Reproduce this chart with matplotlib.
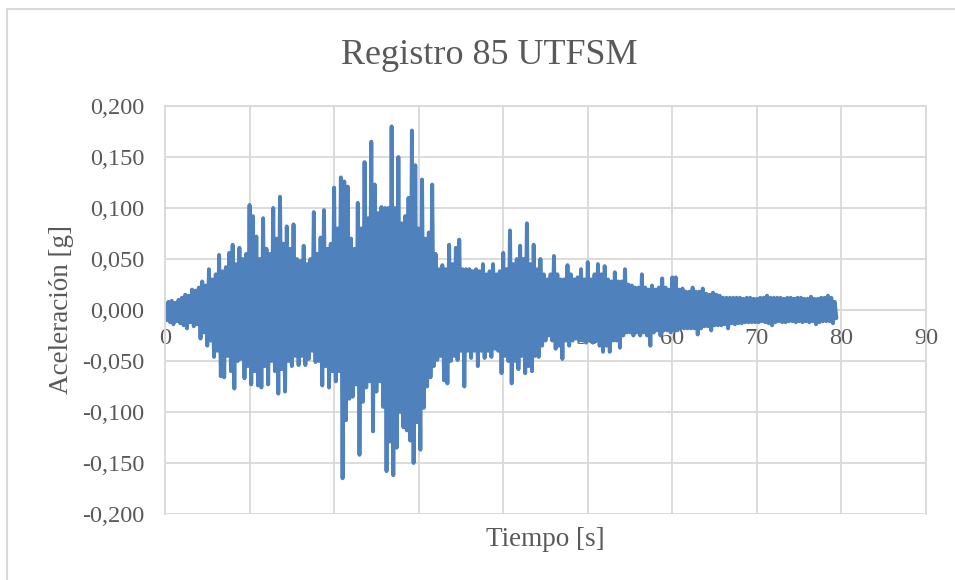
import numpy as np
import matplotlib
matplotlib.use("Agg")
import matplotlib.pyplot as plt
from matplotlib.ticker import FuncFormatter
from matplotlib.patches import Rectangle

title = "Registro 85 UTFSM"
x_label = "Tiempo [s]"
y_label = "Aceleración [g]"
x_ticks = [0, 10, 20, 30, 40, 50, 60, 70, 80, 90]
y_ticks = [-0.200, -0.150, -0.100, -0.050, 0.000, 0.050, 0.100, 0.150, 0.200]

# sampling interval of the (visually read) record, seconds
dt = 0.2

# acceleration, in thousandths of g, 10 samples (2 s) per row
acc_mg = [
    5, -10, 8, -12, 9, -14, 7, -11, 10, -13,
    12, -15, 15, -18, 14, -12, 20, -16, 19, -14,
    22, -28, 28, -22, 24, -35, 40, -30, 30, -46,
    35, -40, 54, -65, 38, -66, 42, -45, 56, -60,
    64, -77, 45, -50, 61, -48, 50, -67, 55, -55,
    103, -73, 92, -60, 72, -74, 50, -76, 90, -55,
    60, -73, 55, -50, 100, -60, 70, -82, 111, -58,
    65, -80, 82, -50, 60, -55, 84, -45, 50, -54,
    48, -45, 63, -54, 45, -48, 50, -40, 96, -51,
    55, -50, 71, -74, 98, -55, 60, -76, 65, -60,
    120, -70, 80, -60, 130, -165, 126, -108, 121, -87,
    70, -85, 60, -73, 105, -142, 80, -90, 145, -76,
    90, -70, 165, -119, 123, -80, 95, -70, 101, -95,
    100, -158, 100, -129, 180, -162, 100, -135, 150, -100,
    85, -115, 92, -118, 110, -128, 176, -150, 142, -110,
    80, -137, 128, -96, 70, -75, 76, -66, 123, -55,
    55, -49, 40, -45, 44, -69, 40, -72, 64, -50,
    45, -45, 61, -49, 69, -40, 40, -75, 40, -40,
    40, -47, 38, -40, 40, -55, 38, -40, 45, -47,
    35, -40, 38, -46, 45, -38, 35, -40, 38, -62,
    56, -45, 40, -50, 78, -72, 45, -50, 50, -58,
    63, -45, 50, -62, 85, -55, 45, -60, 64, -45,
    40, -46, 50, -35, 35, -30, 30, -25, 35, -30,
    53, -38, 35, -35, 30, -48, 30, -30, 44, -35,
    35, -30, 30, -28, 32, -30, 40, -30, 30, -32,
    47, -30, 30, -32, 35, -30, 45, -35, 35, -41,
    43, -35, 30, -41, 28, -30, 37, -30, 28, -37,
    28, -25, 40, -22, 25, -22, 24, -25, 22, -22,
    22, -25, 35, -22, 22, -25, 20, -35, 24, -22,
    20, -20, 22, -25, 31, -20, 22, -20, 20, -22,
    32, -20, 32, -20, 20, -18, 21, -18, 18, -18,
    18, -18, 22, -18, 18, -24, 18, -18, 21, -16,
    16, -16, 15, -20, 17, -15, 15, -15, 14, -15,
    12, -14, 12, -18, 12, -13, 12, -14, 12, -13,
    12, -13, 11, -12, 12, -12, 12, -12, 11, -12,
    11, -12, 12, -11, 12, -12, 14, -13, 12, -15,
    12, -12, 12, -11, 12, -12, 11, -12, 12, -11,
    12, -11, 11, -12, 12, -11, 12, -12, 11, -11,
    11, -12, 13, -11, 11, -14, 11, -12, 12, -11,
    12, -11, 14, -11, 12, -13, 8, -8,
]

acc = np.array(acc_mg, dtype=float) / 1000.0
time = np.arange(len(acc)) * dt

W, H, DPI = 955, 580, 100
fig = plt.figure(figsize=(W / DPI, H / DPI), dpi=DPI)
fig.patch.set_facecolor("white")

# chart-area frame
fig.patches.append(Rectangle((7 / W, -0.1), 1.2, 1 - 9 / H + 0.1,
                             transform=fig.transFigure, fill=False,
                             edgecolor="#d9d9d9", linewidth=1.5))

left, right, top, bottom = 165 / W, 926 / W, 1 - 106 / H, 1 - 514 / H
ax = fig.add_axes([left, bottom, right - left, top - bottom])

grid_c = "#d9d9d9"
text_c = "#595959"
serif = "Liberation Serif"

ax.plot(time, acc, color="#4F81BD", linewidth=2.8,
        solid_joinstyle="round", solid_capstyle="round", zorder=2)

ax.set_xlim(0, 90)
ax.set_ylim(-0.2, 0.2)
ax.set_xticks(x_ticks)
ax.set_yticks(y_ticks)
ax.yaxis.set_major_formatter(FuncFormatter(lambda v, p: f"{v:.3f}".replace(".", ",")))
ax.xaxis.set_major_formatter(FuncFormatter(lambda v, p: f"{v:.0f}"))

ax.grid(True, color=grid_c, linewidth=1.3, zorder=0)
ax.set_axisbelow(True)
for s in ["top", "right", "left"]:
    ax.spines[s].set_color(grid_c)
    ax.spines[s].set_linewidth(1.3)
ax.spines["bottom"].set_position(("data", 0))
ax.spines["bottom"].set_color(grid_c)
ax.spines["bottom"].set_linewidth(1.3)
ax.spines["bottom"].set_zorder(1)

ax.tick_params(axis="both", length=0, labelcolor=text_c, labelsize=17.5)
ax.tick_params(axis="x", pad=13)
ax.tick_params(axis="y", pad=15)
for lab in ax.get_xticklabels() + ax.get_yticklabels():
    lab.set_fontfamily(serif)

fig.text(489 / W, 1 - 55 / H, title, ha="center", va="center",
         fontsize=26, color=text_c, family=serif)
fig.text((left + right) / 2, 1 - 540 / H, x_label, ha="center", va="center",
         fontsize=19.5, color=text_c, family=serif)
fig.text(62 / W, 1 - 310 / H, y_label, ha="center", va="center", rotation=90,
         fontsize=19.5, color=text_c, family=serif)

fig.savefig("out.png", dpi=DPI, facecolor="white")
